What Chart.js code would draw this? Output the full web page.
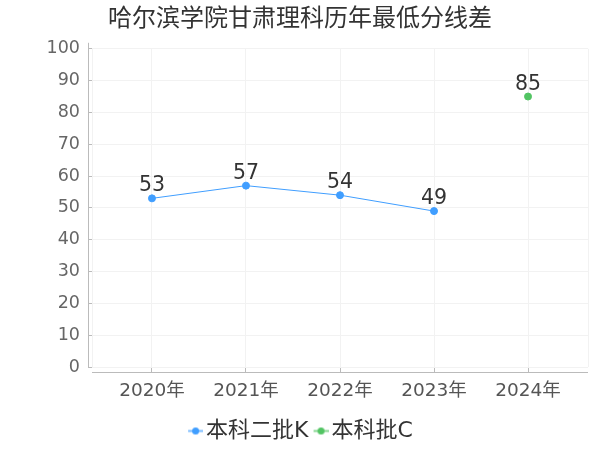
<!DOCTYPE html>
<html>
<head>
<meta charset="utf-8">
<script src="https://cdn.jsdelivr.net/npm/chart.js@4/dist/chart.umd.min.js"></script>
<style>
  html, body { margin: 0; padding: 0; background: #fff; }
  #wrap { width: 600px; height: 450px; }
</style>
</head>
<body>
<div id="wrap"><canvas id="chart"></canvas></div>
<script>
const years = ['2020年', '2021年', '2022年', '2023年', '2024年'];
const benke2K = [53, 57, 54, 49, null];
const benkeC = [null, null, null, null, 85];
const seriesNames = ['本科二批K', '本科批C'];
const colors = ['#409eff', '#52c463'];

const FONT = '"DejaVu Sans", "Noto Sans CJK SC", sans-serif';
const X_PAD = 0.638; // empty room at both ends of the x axis

// legend marker: short line with a dot, shifted right so it sits close to the text
function marker(color) {
  const c = document.createElement('canvas');
  c.width = 24; c.height = 9;
  const g = c.getContext('2d');
  g.strokeStyle = color; g.globalAlpha = 0.7; g.lineWidth = 2;
  g.beginPath(); g.moveTo(9, 4.5); g.lineTo(24, 4.5); g.stroke();
  g.globalAlpha = 1;
  g.fillStyle = color;
  g.beginPath(); g.arc(16.5, 4.5, 3.5, 0, Math.PI * 2); g.fill();
  return c;
}
const markers = colors.map(marker);

const toPoints = arr => arr.map((v, i) => ({ x: i, y: v }));

// keep the legend block short so the plot reaches down far enough
const legendHeight = {
  id: 'legendHeight',
  beforeLayout(chart) {
    const lg = chart.legend;
    if (!lg || lg._fitWrapped) return;
    const fit = lg.fit.bind(lg);
    lg.fit = function () { fit(); this.height = 34; };
    lg._fitWrapped = true;
  }
};

// axis lines sit a few px outside the plot area
const axisLines = {
  id: 'axisLines',
  afterDraw(chart) {
    const { ctx, chartArea: a } = chart;
    ctx.save();
    ctx.strokeStyle = '#bbb';
    ctx.lineWidth = 1;
    ctx.beginPath();
    ctx.moveTo(a.left - 3.5, a.top - 6);
    ctx.lineTo(a.left - 3.5, a.bottom + 1);
    ctx.moveTo(a.left, a.bottom + 5.5);
    ctx.lineTo(a.right, a.bottom + 5.5);
    ctx.stroke();
    ctx.restore();
  }
};

const valueLabels = {
  id: 'valueLabels',
  afterDatasetsDraw(chart) {
    const ctx = chart.ctx;
    ctx.save();
    ctx.font = '20.5px ' + FONT;
    ctx.fillStyle = '#333';
    ctx.textAlign = 'center';
    ctx.textBaseline = 'bottom';
    chart.data.datasets.forEach((ds, i) => {
      chart.getDatasetMeta(i).data.forEach((pt, j) => {
        const v = ds.data[j].y;
        if (v == null) return;
        ctx.fillText(String(v), pt.x, pt.y - 2);
      });
    });
    ctx.restore();
  }
};

new Chart(document.getElementById('chart'), {
  type: 'line',
  data: {
    datasets: [
      {
        label: seriesNames[0],
        data: toPoints(benke2K),
        borderColor: colors[0],
        backgroundColor: colors[0],
        borderWidth: 1,
        pointRadius: 3.5,
        pointHoverRadius: 3.5
      },
      {
        label: seriesNames[1],
        data: toPoints(benkeC),
        borderColor: colors[1],
        backgroundColor: colors[1],
        borderWidth: 1,
        pointRadius: 3.5,
        pointHoverRadius: 3.5
      }
    ]
  },
  options: {
    responsive: true,
    maintainAspectRatio: false,
    animation: false,
    layout: { padding: { left: 12, right: 12, top: 0, bottom: 0 } },
    plugins: {
      title: {
        display: true,
        text: '哈尔滨学院甘肃理科历年最低分线差',
        color: '#333',
        font: { family: FONT, size: 24, weight: 'normal' },
        padding: { top: 5, bottom: 15 }
      },
      legend: {
        position: 'bottom',
        labels: {
          usePointStyle: true,
          pointStyleWidth: 8,
          color: '#333',
          font: { family: FONT, size: 22 },
          padding: 4,
          generateLabels: chart =>
            Chart.defaults.plugins.legend.labels.generateLabels(chart)
              .map((l, i) => ({ ...l, pointStyle: markers[i] }))
        }
      },
      tooltip: { enabled: false }
    },
    scales: {
      x: {
        type: 'linear',
        min: -X_PAD,
        max: years.length - 1 + X_PAD,
        afterFit: s => { s.height = 49; },
        afterBuildTicks: s => {
          s.ticks = [-X_PAD, ...years.map((_, i) => i), years.length - 1 + X_PAD]
            .map(v => ({ value: v }));
        },
        ticks: {
          color: '#555',
          font: { family: FONT, size: 18.5 },
          padding: 8,
          maxRotation: 0,
          autoSkip: false,
          callback: v => Number.isInteger(v) ? years[v] : ''
        },
        grid: {
          color: '#f2f2f2',
          tickLength: 5,
          tickColor: c => Number.isInteger(c.tick && c.tick.value) ? '#bbb' : 'rgba(0,0,0,0)'
        },
        border: { display: false }
      },
      y: {
        min: 0,
        max: 100,
        afterFit: s => { s.width = 80; },
        ticks: {
          stepSize: 10,
          color: '#666',
          font: { family: FONT, size: 17.5 },
          padding: 8
        },
        grid: { color: '#f2f2f2', tickLength: 4, tickColor: '#bbb' },
        border: { display: false }
      }
    }
  },
  plugins: [legendHeight, axisLines, valueLabels]
});
</script>
</body>
</html>
